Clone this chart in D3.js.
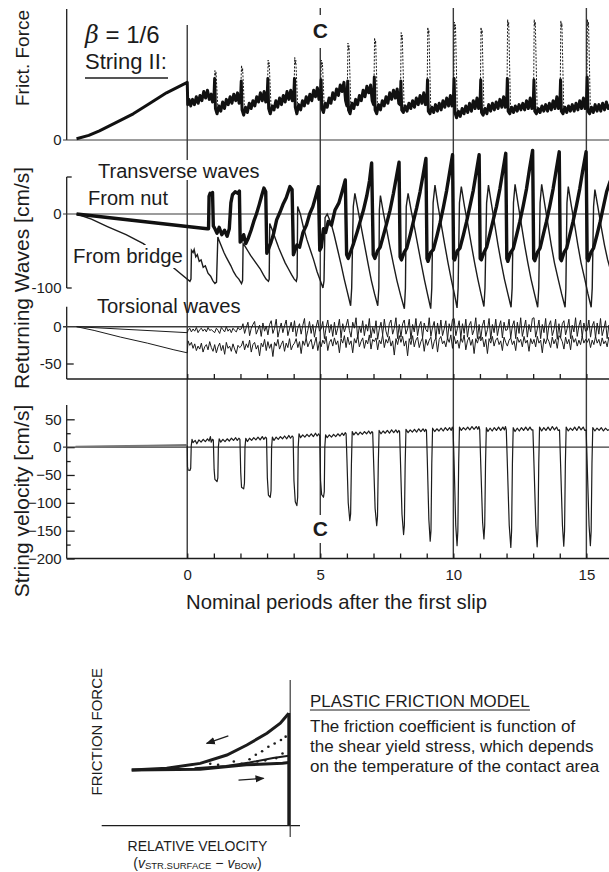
<!DOCTYPE html>
<html><head><meta charset="utf-8">
<script src="https://cdn.jsdelivr.net/npm/d3@7"></script>
<style>
body{margin:0;background:#fff}
text{font-family:"Liberation Sans",Arial,Helvetica,sans-serif;fill:#1c1c1c}
</style>
</head><body>
<svg id="c" width="609" height="872"></svg>
<script>
// ---------------- DATA ----------------
const periodTicks = d3.range(0, 16);
const periodLabels = [0, 5, 10, 15];
const velTicks = [50, 0, -50, -100, -150, -200];
const velMinor = [25, -25, -75, -125, -175];

// Friction force (arbitrary units, 0..1)
const frictionPre = [[-4.16,0.01],[-3.7,0.035],[-3.3,0.07],[-2.7,0.13],[-2.03,0.2],[-1.4,0.28],[-0.78,0.36],[0,0.44]];
const frictionSolid = [
[0.02,0.27],[0.07,0.31],[0.13,0.26],[0.2,0.31],[0.27,0.27],[0.34,0.33],[0.41,0.28],[0.48,0.34],[0.55,0.3],[0.62,0.37],[0.69,0.32],[0.76,0.38],[0.83,0.31],[0.9,0.35],[0.95,0.29],
[1.0,0.3],[1.03,0.47],[1.06,0.24],[1.12,0.2],[1.19,0.26],[1.26,0.22],[1.33,0.29],[1.4,0.24],[1.47,0.31],[1.54,0.27],[1.61,0.33],[1.68,0.28],[1.75,0.35],[1.82,0.3],[1.89,0.36],[1.95,0.28],
[2.0,0.3],[2.03,0.45],[2.06,0.23],[2.12,0.19],[2.19,0.25],[2.26,0.21],[2.33,0.28],[2.4,0.24],[2.47,0.3],[2.54,0.26],[2.61,0.33],[2.68,0.29],[2.75,0.36],[2.82,0.3],[2.89,0.37],[2.95,0.29],
[3.0,0.31],[3.03,0.47],[3.06,0.24],[3.12,0.2],[3.19,0.26],[3.26,0.23],[3.33,0.3],[3.4,0.25],[3.47,0.32],[3.54,0.27],[3.61,0.34],[3.68,0.29],[3.75,0.37],[3.82,0.31],[3.89,0.38],[3.95,0.3],
[4.0,0.32],[4.03,0.47],[4.06,0.25],[4.12,0.2],[4.19,0.27],[4.26,0.23],[4.33,0.3],[4.4,0.26],[4.47,0.33],[4.54,0.28],[4.61,0.35],[4.68,0.3],[4.75,0.38],[4.82,0.33],[4.89,0.4],[4.95,0.31],
[5.0,0.33],[5.03,0.46],[5.06,0.24],[5.12,0.21],[5.19,0.28],[5.26,0.25],[5.33,0.32],[5.4,0.28],[5.47,0.36],[5.54,0.31],[5.61,0.39],[5.68,0.34],[5.75,0.42],[5.82,0.37],[5.89,0.44],[5.95,0.3],
[6.0,0.26],[6.03,0.45],[6.06,0.23],[6.12,0.2],[6.19,0.28],[6.26,0.24],[6.33,0.31],[6.4,0.27],[6.47,0.34],[6.54,0.3],[6.61,0.38],[6.68,0.33],[6.75,0.41],[6.82,0.36],[6.89,0.42],[6.95,0.3],
[7.0,0.27],[7.03,0.48],[7.06,0.23],[7.12,0.2],[7.19,0.27],[7.26,0.23],[7.33,0.3],[7.4,0.26],[7.47,0.33],[7.54,0.28],[7.61,0.36],[7.68,0.31],[7.75,0.38],[7.82,0.32],[7.89,0.39],[7.95,0.28],
[8.0,0.27],[8.03,0.45],[8.06,0.23],[8.12,0.21],[8.19,0.26],[8.26,0.22],[8.33,0.28],[8.4,0.24],[8.47,0.3],[8.54,0.25],[8.61,0.32],[8.68,0.27],[8.75,0.34],[8.82,0.28],[8.89,0.36],[8.95,0.27],
[9.0,0.28],[9.03,0.46],[9.06,0.22],[9.12,0.2],[9.19,0.25],[9.26,0.21],[9.33,0.27],[9.4,0.22],[9.47,0.28],[9.54,0.23],[9.61,0.3],[9.68,0.25],[9.75,0.32],[9.82,0.26],[9.89,0.34],[9.95,0.26],
[10.0,0.3],[10.03,0.47],[10.06,0.21],[10.12,0.17],[10.19,0.22],[10.26,0.18],[10.33,0.24],[10.4,0.2],[10.47,0.26],[10.54,0.21],[10.61,0.28],[10.68,0.22],[10.75,0.3],[10.82,0.24],[10.89,0.32],[10.95,0.24],
[11.0,0.26],[11.03,0.46],[11.06,0.21],[11.12,0.19],[11.19,0.24],[11.26,0.2],[11.33,0.27],[11.4,0.22],[11.47,0.28],[11.54,0.23],[11.61,0.29],[11.68,0.24],[11.75,0.31],[11.82,0.25],[11.89,0.33],[11.95,0.25],
[12.0,0.27],[12.03,0.47],[12.06,0.22],[12.12,0.2],[12.19,0.25],[12.26,0.21],[12.33,0.26],[12.4,0.22],[12.47,0.27],[12.54,0.23],[12.61,0.28],[12.68,0.23],[12.75,0.3],[12.82,0.24],[12.89,0.32],[12.95,0.24],
[13.0,0.26],[13.03,0.46],[13.06,0.22],[13.12,0.2],[13.19,0.24],[13.26,0.21],[13.33,0.26],[13.4,0.22],[13.47,0.27],[13.54,0.22],[13.61,0.28],[13.68,0.23],[13.75,0.3],[13.82,0.24],[13.89,0.33],[13.95,0.24],
[14.0,0.26],[14.03,0.46],[14.06,0.22],[14.12,0.2],[14.19,0.25],[14.26,0.21],[14.33,0.26],[14.4,0.22],[14.47,0.27],[14.54,0.22],[14.61,0.28],[14.68,0.23],[14.75,0.3],[14.82,0.24],[14.89,0.32],[14.95,0.24],
[15.0,0.27],[15.03,0.48],[15.06,0.22],[15.12,0.2],[15.19,0.25],[15.26,0.21],[15.33,0.27],[15.4,0.22],[15.47,0.27],[15.54,0.22],[15.61,0.28],[15.68,0.23],[15.75,0.29],[15.82,0.24],[15.9,0.27]
];
const frictionDashed = [
[[1.02,0.44],[1.04,0.53],[1.06,0.49],[1.08,0.52],[1.15,0.25]],
[[2.02,0.44],[2.04,0.57],[2.06,0.52],[2.08,0.55],[2.15,0.24]],
[[3.02,0.44],[3.04,0.61],[3.06,0.56],[3.08,0.59],[3.15,0.25]],
[[4.02,0.44],[4.04,0.63],[4.06,0.58],[4.08,0.61],[4.15,0.26]],
[[5.02,0.44],[5.04,0.61],[5.06,0.56],[5.08,0.59],[5.15,0.25]],
[[6.02,0.44],[6.04,0.74],[6.06,0.69],[6.08,0.72],[6.15,0.25]],
[[7.02,0.44],[7.04,0.78],[7.06,0.73],[7.08,0.76],[7.15,0.25]],
[[8.02,0.44],[8.04,0.82],[8.06,0.77],[8.08,0.8],[8.15,0.25]],
[[9.02,0.44],[9.04,0.86],[9.06,0.81],[9.08,0.84],[9.15,0.25]],
[[10.02,0.44],[10.04,0.9],[10.06,0.85],[10.08,0.88],[10.15,0.22]],
[[11.02,0.44],[11.04,0.86],[11.06,0.81],[11.08,0.84],[11.15,0.23]],
[[12.02,0.44],[12.04,0.92],[12.06,0.87],[12.08,0.9],[12.15,0.23]],
[[13.02,0.44],[13.04,0.92],[13.06,0.87],[13.08,0.9],[13.15,0.23]],
[[14.02,0.44],[14.04,0.91],[14.06,0.86],[14.08,0.89],[14.15,0.23]],
[[15.02,0.44],[15.04,0.92],[15.06,0.87],[15.08,0.9],[15.15,0.23]]
];

// Transverse returning waves [cm/s]
const waveNut = [
[-4.16,0],[0.75,-20],
[0.8,-20],[0.82,24],[0.86,28],[0.9,26],[0.95,29],[0.98,-16],
[1.04,-20],[1.12,-26],[1.2,-18],[1.3,-28],[1.4,-22],[1.5,-30],[1.58,-20],[1.64,15],[1.7,26],[1.8,30],[1.9,28],[1.96,31],[1.99,-38],
[2.05,-35],[2.12,-28],[2.2,-40],[2.3,-32],[2.4,-22],[2.5,-10],[2.6,0],[2.7,12],[2.8,25],[2.88,35],[2.95,30],[2.99,-53],
[3.05,-48],[3.15,-38],[3.25,-26],[3.36,-8],[3.48,2],[3.61,14],[3.72,22],[3.86,37],[3.94,33],[3.99,-55],
[4.04,-50],[4.12,-42],[4.22,-45],[4.35,-25],[4.48,-15],[4.6,0],[4.72,10],[4.84,25],[4.93,37],[4.98,-49],
[5.04,-45],[5.12,-20],[5.2,-25],[5.3,-10],[5.42,-15],[5.55,5],[5.7,15],[5.82,30],[5.94,46],[5.99,-55],
[6.05,-60],[6.15,-50],[6.25,-40],[6.38,-25],[6.5,-10],[6.62,5],[6.75,25],[6.85,45],[6.93,69],[6.99,-55],
[7.05,-60],[7.15,-50],[7.25,-45],[7.38,-28],[7.5,-12],[7.62,5],[7.75,28],[7.86,50],[7.96,70],[8.0,-58],
[8.05,-62],[8.15,-52],[8.25,-46],[8.38,-28],[8.5,-10],[8.62,8],[8.75,30],[8.86,52],[8.97,75],[9.01,-60],
[9.05,-64],[9.15,-52],[9.25,-48],[9.38,-30],[9.5,-12],[9.62,8],[9.75,32],[9.86,56],[9.97,80],[10.01,-60],
[10.05,-62],[10.15,-50],[10.25,-46],[10.38,-28],[10.5,-10],[10.62,10],[10.75,32],[10.86,56],[10.97,80],[11.01,-60],
[11.05,-62],[11.15,-52],[11.25,-45],[11.38,-26],[11.5,-8],[11.62,10],[11.75,34],[11.86,58],[11.97,82],[12.01,-60],
[12.05,-64],[12.15,-52],[12.25,-47],[12.38,-28],[12.5,-10],[12.62,10],[12.75,34],[12.86,60],[12.98,86],[13.02,-60],
[13.06,-63],[13.16,-52],[13.26,-46],[13.38,-28],[13.5,-10],[13.62,10],[13.75,34],[13.86,58],[13.98,84],[14.02,-60],
[14.06,-63],[14.16,-52],[14.26,-46],[14.38,-28],[14.5,-10],[14.62,10],[14.75,34],[14.86,58],[14.99,84],[15.03,-60],
[15.07,-63],[15.17,-52],[15.27,-46],[15.4,-28],[15.52,-10],[15.64,10],[15.76,30],[15.9,45]
];
const waveBridge = [
[-4.16,0],[-3.6,-7],[-3.0,-17],[-2.3,-28],[-1.65,-40],[-1.0,-58],[-0.27,-80],[0.1,-91],
[0.14,-88],[0.16,-49],[0.22,-52],[0.26,-48],[0.32,-58],[0.38,-55],[0.45,-64],[0.52,-62],[0.6,-72],[0.68,-70],[0.78,-80],[0.88,-84],[0.96,-90],[1.04,-94],
[1.1,-92],[1.15,-31],[1.22,-38],[1.3,-45],[1.38,-52],[1.46,-58],[1.55,-64],[1.64,-70],[1.74,-78],[1.84,-84],[1.94,-88],[2.04,-94],
[2.08,-90],[2.1,-40],[2.18,-44],[2.28,-50],[2.38,-56],[2.5,-62],[2.62,-68],[2.74,-74],[2.86,-82],[2.96,-88],[3.05,-91],
[3.08,-88],[3.1,-13],[3.2,-22],[3.32,-34],[3.44,-46],[3.56,-56],[3.68,-66],[3.8,-74],[3.92,-82],[4.02,-88],[4.1,-91],
[4.13,-85],[4.15,10],[4.25,0],[4.38,-20],[4.5,-35],[4.62,-48],[4.75,-62],[4.88,-78],[5.0,-90],[5.1,-100],
[5.14,-90],[5.18,-5],[5.26,0],[5.4,-12],[5.52,-28],[5.65,-48],[5.78,-68],[5.9,-88],[6.02,-106],[6.14,-124],
[6.18,-100],[6.24,10],[6.3,28],[6.42,5],[6.55,-20],[6.68,-45],[6.8,-68],[6.92,-90],[7.04,-108],[7.16,-124],
[7.2,-100],[7.22,5],[7.26,25],[7.38,0],[7.5,-22],[7.62,-45],[7.75,-68],[7.88,-90],[8.02,-110],[8.16,-128],
[8.2,-100],[8.23,10],[8.3,28],[8.42,4],[8.55,-20],[8.68,-45],[8.8,-68],[8.92,-90],[9.04,-110],[9.15,-128],
[9.19,-100],[9.24,15],[9.31,39],[9.42,12],[9.55,-15],[9.68,-42],[9.8,-66],[9.92,-88],[10.04,-108],[10.14,-127],
[10.18,-100],[10.23,15],[10.3,37],[10.42,10],[10.55,-15],[10.68,-42],[10.8,-66],[10.92,-88],[11.04,-108],[11.15,-125],
[11.19,-100],[11.25,15],[11.32,39],[11.44,12],[11.56,-15],[11.68,-42],[11.8,-66],[11.92,-88],[12.05,-108],[12.17,-126],
[12.21,-100],[12.26,15],[12.32,40],[12.44,12],[12.56,-15],[12.68,-42],[12.8,-66],[12.92,-88],[13.05,-108],[13.17,-126],
[13.21,-100],[13.26,15],[13.32,40],[13.44,12],[13.56,-15],[13.68,-42],[13.8,-66],[13.94,-88],[14.07,-108],[14.2,-126],
[14.23,-100],[14.27,15],[14.32,37],[14.44,10],[14.56,-15],[14.68,-42],[14.8,-66],[14.94,-88],[15.06,-108],[15.18,-126],
[15.22,-100],[15.27,10],[15.32,33],[15.44,8],[15.56,-18],[15.68,-42],[15.8,-62],[15.9,-75]
];

// Torsional returning waves [cm/s], sampled every 1/16 period after the first slip
const torsionUpperPre = [[-4.16,0],[0,-8]];
const torsionLowerPre = [[-4.16,0],[-3.5,-5],[-2.5,-14],[-1.5,-22],[-0.5,-31],[0,-35]];
const torsionStart = 0.03125, torsionStep = 0.0625;
const torsionUpper = [
-5,-2,-7,-3,-6,-1,-8,-4,-2,-6,-3,-7,-1,-5,-4,-6,
-8,-2,-5,-9,-1,-4,-7,0,-6,-3,-8,-2,-5,-7,-1,-4,
-3,4,-9,-1,6,-12,-2,3,7,-10,-4,2,-13,5,-6,1,
-11,3,8,-9,-2,10,-14,-4,5,-8,1,9,-12,-3,6,-7,
8,-13,-2,4,-10,2,11,-15,-5,7,-9,3,-14,0,9,-6,
-3,7,-16,-1,9,-8,3,-13,6,-11,-2,10,-15,4,-7,1,
10,-5,-14,6,-2,12,-16,1,-8,8,-12,3,-6,11,-15,-1,
-9,8,-17,-3,6,-11,10,-6,-14,4,9,-10,-2,12,-16,3,
-14,4,9,-10,-3,10,-17,3,-7,11,-12,1,7,-15,5,-4,
-7,12,-13,-1,7,-16,5,-10,9,-12,-3,8,-17,4,-6,10,
11,-12,-2,8,-15,4,-9,10,-14,2,7,-11,-4,12,-16,3,
-16,2,9,-13,-4,11,-17,3,-8,10,-12,0,8,-15,6,-5,
-4,10,-15,1,8,-16,6,-9,12,-13,-2,9,-14,3,-7,11,
12,-14,-3,9,-16,3,-8,11,-15,2,8,-12,-4,10,-17,4,
-15,4,8,-11,-2,10,-16,2,-7,12,-13,1,9,-14,5,-6,
-5,9,-14,1,7,-15,5,-10,11,-12,-3,8,-16,2,-6,9
];
const torsionLower = [
-19,-25,-21,-29,-23,-32,-26,-30,-22,-34,-27,-24,-31,-20,-28,-33,
-24,-35,-27,-22,-32,-25,-37,-21,-29,-26,-33,-23,-30,-36,-25,-28,
-26,-19,-31,-23,-28,-18,-34,-24,-21,-30,-25,-39,-22,-27,-17,-32,
-20,-29,-23,-40,-21,-26,-17,-30,-24,-19,-33,-22,-28,-16,-31,-25,
-22,-16,-28,-20,-36,-19,-25,-15,-27,-21,-17,-30,-23,-14,-32,-20,
-27,-18,-23,-13,-32,-21,-17,-26,-15,-24,-19,-35,-16,-22,-12,-28,
-14,-24,-19,-35,-16,-22,-12,-27,-20,-15,-29,-18,-23,-11,-30,-17,
-20,-15,-31,-18,-23,-11,-28,-17,-22,-13,-26,-19,-38,-16,-24,-12,
-21,-13,-26,-19,-39,-16,-24,-12,-27,-18,-14,-28,-20,-15,-33,-17,
-25,-18,-14,-30,-20,-15,-34,-17,-13,-23,-19,-27,-15,-21,-11,-29,
-13,-23,-18,-29,-15,-21,-11,-31,-19,-14,-25,-17,-36,-16,-22,-13,
-19,-14,-27,-17,-36,-16,-22,-13,-26,-18,-15,-24,-19,-32,-14,-21,
-26,-18,-15,-24,-19,-32,-14,-21,-17,-27,-13,-22,-18,-33,-16,-23,
-17,-27,-13,-22,-18,-35,-16,-23,-15,-20,-28,-14,-23,-17,-29,-12,
-15,-20,-30,-14,-23,-17,-31,-12,-21,-16,-26,-18,-24,-13,-22,-17,
-21,-16,-28,-18,-24,-13,-22,-17,-26,-15,-23,-19,-27,-14,-20,-16
];

// String velocity [cm/s]
const velocityPre = [[-4.2,0.5],[-3,1.5],[-1.5,2.5],[0,3.5]];
const velocity = [
[0.0,3],[0.01,-35],[0.03,-41],[0.1,-42],[0.13,-38],[0.15,2],[0.18,14],[0.22,8],[0.3,12],[0.36,6],[0.44,13],[0.52,9],[0.6,14],[0.68,10],[0.76,15],[0.82,11],[0.87,19],[0.9,9],[0.95,14],
[0.98,13],[1.01,-40],[1.04,-58],[1.12,-62],[1.15,-55],[1.17,0],[1.2,15],[1.26,9],[1.34,14],[1.42,10],[1.5,15],[1.58,11],[1.66,16],[1.74,12],[1.82,17],[1.88,12],[1.94,16],
[1.98,14],[2.01,-45],[2.04,-72],[2.12,-75],[2.15,-65],[2.17,0],[2.2,16],[2.26,10],[2.34,16],[2.42,12],[2.5,17],[2.58,13],[2.66,18],[2.74,13],[2.82,19],[2.88,14],[2.94,18],
[2.98,16],[3.01,-55],[3.05,-86],[3.12,-90],[3.15,-78],[3.17,0],[3.2,18],[3.26,12],[3.34,18],[3.42,14],[3.5,19],[3.58,15],[3.66,20],[3.74,15],[3.82,21],[3.88,16],[3.94,20],
[3.98,18],[4.01,-60],[4.06,-98],[4.12,-105],[4.15,-90],[4.17,0],[4.2,24],[4.26,17],[4.34,22],[4.42,18],[4.5,23],[4.58,19],[4.66,24],[4.74,19],[4.82,25],[4.88,20],[4.94,24],
[4.98,20],[5.01,-60],[5.05,-85],[5.12,-90],[5.15,-80],[5.17,0],[5.2,22],[5.26,17],[5.34,22],[5.42,18],[5.5,23],[5.58,19],[5.66,24],[5.74,20],[5.82,25],[5.88,21],[5.94,26],
[5.97,24],[6.0,-20],[6.05,-100],[6.11,-132],[6.14,-120],[6.17,-30],[6.2,28],[6.26,22],[6.34,27],[6.42,22],[6.5,27],[6.58,23],[6.66,28],[6.74,24],[6.82,29],[6.88,24],[6.94,28],
[6.97,26],[7.0,-20],[7.06,-110],[7.12,-141],[7.15,-125],[7.18,-30],[7.21,30],[7.28,24],[7.36,29],[7.44,25],[7.52,30],[7.6,25],[7.68,31],[7.76,26],[7.84,31],[7.9,26],[7.95,30],
[7.98,28],[8.01,-20],[8.07,-120],[8.13,-157],[8.16,-140],[8.19,-30],[8.22,32],[8.3,26],[8.38,31],[8.46,27],[8.54,32],[8.62,27],[8.7,33],[8.78,28],[8.86,33],[8.92,28],[8.96,32],
[8.99,30],[9.02,-20],[9.08,-130],[9.13,-169],[9.16,-150],[9.19,-30],[9.22,34],[9.3,28],[9.38,33],[9.46,29],[9.54,34],[9.62,29],[9.7,35],[9.78,30],[9.86,35],[9.92,30],[9.96,36],
[9.99,32],[10.03,-30],[10.09,-140],[10.14,-177],[10.17,-150],[10.2,-30],[10.23,36],[10.3,30],[10.38,35],[10.46,31],[10.54,36],[10.62,31],[10.7,37],[10.78,32],[10.86,37],[10.92,32],[10.96,37],
[10.99,32],[11.03,-30],[11.1,-135],[11.15,-165],[11.18,-140],[11.21,-30],[11.24,35],[11.3,28],[11.38,34],[11.46,29],[11.54,35],[11.62,30],[11.7,36],[11.78,30],[11.86,36],[11.92,31],[11.96,37],
[11.99,31],[12.03,-30],[12.1,-140],[12.16,-180],[12.19,-150],[12.22,-30],[12.25,35],[12.32,28],[12.4,34],[12.48,29],[12.56,35],[12.64,30],[12.72,36],[12.8,30],[12.88,36],[12.94,31],
[12.99,31],[13.03,-30],[13.1,-140],[13.15,-179],[13.18,-150],[13.21,-30],[13.24,36],[13.32,29],[13.4,35],[13.48,30],[13.56,36],[13.64,30],[13.72,37],[13.8,31],[13.88,36],[13.94,30],
[13.99,31],[14.03,-30],[14.1,-140],[14.15,-178],[14.18,-150],[14.21,-30],[14.24,36],[14.32,29],[14.4,34],[14.48,30],[14.56,36],[14.64,30],[14.72,37],[14.8,31],[14.88,36],[14.94,30],
[14.99,31],[15.03,-30],[15.1,-140],[15.15,-177],[15.18,-150],[15.21,-30],[15.24,35],[15.32,29],[15.4,34],[15.48,30],[15.56,35],[15.64,29],[15.72,34],[15.8,30],[15.9,33]
];

// Inset: plastic friction model (relative velocity -1..0, force 0..1)
const insetUpper = [[-1,0.494],[-0.777,0.509],[-0.564,0.553],[-0.394,0.627],[-0.267,0.716],[-0.139,0.82],[-0.054,0.909],[0,0.998]];
const insetLower = [[-1,0.494],[-0.564,0.5],[-0.27,0.54],[-0.04,0.555],[0,0.56]];
const insetBand = [[-0.6,0.51],[-0.4,0.53],[-0.25,0.56],[-0.1,0.6],[0,0.62]];
const insetDots = [[-0.3,0.55],[-0.25,0.59],[-0.21,0.63],[-0.17,0.66],[-0.13,0.7],[-0.09,0.73],[-0.05,0.76],[-0.02,0.79],[-0.45,0.54],[-0.35,0.57],[-0.5,0.55],[-0.2,0.57],[-0.08,0.6],[-0.04,0.64],[-0.15,0.58]];

// ---------------- DRAW ----------------
const svg = d3.select("#c");
const x = d3.scaleLinear().domain([-4.53, 15.85]).range([66.7, 609]);
const yF = d3.scaleLinear().domain([0, 1]).range([140, 9]);
const yT = d3.scaleLinear().domain([-100, 0]).range([288, 214]);
const yR = d3.scaleLinear().domain([-50, 0]).range([364, 326.7]);
const yV = d3.scaleLinear().domain([-200, 50]).range([558.5, 419.3]);
const axisX = 66.7, rightX = 609;
const ink = "#1c1c1c", guide = "#3a3a3a";

function hline(y, x1, x2, w, c) {
  svg.append("line").attr("x1", x1).attr("x2", x2).attr("y1", y).attr("y2", y)
    .attr("stroke", c || guide).attr("stroke-width", w || 1);
}
function vline(xp, y1, y2, w, c) {
  svg.append("line").attr("x1", xp).attr("x2", xp).attr("y1", y1).attr("y2", y2)
    .attr("stroke", c || guide).attr("stroke-width", w || 1);
}

// vertical period guide lines
const guideSegs = {0: [[25, 160], [180, 558.5]], 5: [[8, 15], [48, 515], [543, 558.5]], 10: [[8, 558.5]], 15: [[8, 558.5]]};
periodLabels.forEach(p => guideSegs[p].forEach(s => vline(x(p), s[0], s[1], 1.4)));

// ----- Panel 1: friction force
vline(axisX, 9, 140, 1.3, ink);
hline(yF(0), 63, rightX, 1.2);
svg.append("text").attr("x", 61.5).attr("y", yF(0)).attr("dy", "0.35em").attr("text-anchor", "end").attr("font-size", 15).text("0");
const lineF = d3.line().x(d => x(d[0])).y(d => yF(d[1]));
frictionDashed.forEach(s => svg.append("path").attr("d", lineF(s)).attr("fill", "none")
  .attr("stroke", ink).attr("stroke-width", 1).attr("stroke-dasharray", "2,1.5"));
svg.append("path").attr("d", lineF(frictionPre.concat(frictionSolid))).attr("fill", "none")
  .attr("stroke", "#111").attr("stroke-width", 3).attr("stroke-linejoin", "round");

// ----- Panel 2: transverse
vline(axisX, 177, 288, 1.3, ink);
hline(177, axisX, axisX + 5, 1.3, ink);
hline(yT(-100), axisX, axisX + 5, 1.3, ink);
hline(yT(0), 63, rightX, 1.2);
[0, -100].forEach(v => svg.append("text").attr("x", 61.5).attr("y", yT(v)).attr("dy", "0.35em")
  .attr("text-anchor", "end").attr("font-size", 15).text(v));
const lineT = d3.line().x(d => x(d[0])).y(d => yT(d[1]));
svg.append("path").attr("d", lineT(waveBridge)).attr("fill", "none").attr("stroke", ink).attr("stroke-width", 1.4);
svg.append("path").attr("d", lineT(waveNut)).attr("fill", "none").attr("stroke", "#111").attr("stroke-width", 3.4).attr("stroke-linejoin", "round");

// ----- Panel 3: torsional
vline(axisX, 306.7, 379, 1.3, ink);
hline(yR(-50), axisX, axisX + 7, 1.3, ink);
hline(yR(0), 63, rightX, 1.4);
[0, -50].forEach(v => svg.append("text").attr("x", 61.5).attr("y", yR(v)).attr("dy", "0.35em")
  .attr("text-anchor", "end").attr("font-size", 15).text(v));
const lineR = d3.line().x(d => x(d[0])).y(d => yR(d[1]));
const tUp = torsionUpper.map((v, i) => [torsionStart + i * torsionStep, v]);
const tLo = torsionLower.map((v, i) => [torsionStart + i * torsionStep, v]);
svg.append("path").attr("d", lineR(torsionLowerPre.concat(tLo))).attr("fill", "none").attr("stroke", ink).attr("stroke-width", 1);
svg.append("path").attr("d", lineR(torsionUpperPre.concat(tUp))).attr("fill", "none").attr("stroke", ink).attr("stroke-width", 1);
const axR = svg.append("g").attr("transform", "translate(0,379)")
  .call(d3.axisBottom(x).tickValues(periodTicks).tickSizeInner(-5).tickSizeOuter(0).tickFormat(""));
axR.select(".domain").remove();
axR.selectAll("line").attr("stroke", ink).attr("stroke-width", 1.3);
hline(379, axisX, rightX, 1.5, ink);

// ----- Panel 4: string velocity
vline(axisX, 405, 558.5, 1.3, ink);
const axV = svg.append("g").attr("transform", `translate(${axisX},0)`)
  .call(d3.axisLeft(yV).tickValues(velTicks).tickSizeInner(-8).tickSizeOuter(0).tickPadding(5));
axV.select(".domain").remove();
axV.selectAll("line").attr("stroke", ink).attr("stroke-width", 1.3);
axV.selectAll("text").attr("font-size", 15).attr("font-family", "Liberation Sans, Arial, sans-serif").attr("fill", ink);
const axVm = svg.append("g").attr("transform", `translate(${axisX},0)`)
  .call(d3.axisLeft(yV).tickValues(velMinor).tickSizeInner(-4).tickSizeOuter(0).tickFormat(""));
axVm.select(".domain").remove();
axVm.selectAll("line").attr("stroke", ink).attr("stroke-width", 1.3);
hline(yV(0), 63, rightX, 1.2);
const lineV = d3.line().x(d => x(d[0])).y(d => yV(d[1]));
svg.append("path").attr("d", lineV(velocityPre)).attr("fill", "none").attr("stroke", "#777").attr("stroke-width", 2.2);
svg.append("path").attr("d", lineV(velocity)).attr("fill", "none").attr("stroke", ink).attr("stroke-width", 1.2).attr("stroke-linejoin", "round");
const axB = svg.append("g").attr("transform", "translate(0,558.5)")
  .call(d3.axisBottom(x).tickValues(periodTicks).tickSizeInner(-5).tickSizeOuter(0).tickPadding(11)
    .tickFormat(d => periodLabels.includes(d) ? d : ""));
axB.select(".domain").remove();
axB.selectAll("line").attr("stroke", ink).attr("stroke-width", 1.3);
axB.selectAll("text").attr("font-size", 15).attr("font-family", "Liberation Sans, Arial, sans-serif").attr("fill", ink);
hline(558.5, axisX, rightX, 1.5, ink);

// ----- Labels
function rot(txt, cx, cy, fs) {
  svg.append("text").attr("transform", `translate(${cx},${cy}) rotate(-90)`).attr("text-anchor", "middle")
    .attr("font-size", fs).text(txt);
}
rot("Frict. Force", 28.5, 58, 19);
rot("Returning Waves [cm/s]", 28.5, 278, 21);
rot("String velocity [cm/s]", 28.5, 501, 21);

const beta = svg.append("text").attr("x", 85).attr("y", 43).attr("font-size", 24);
beta.append("tspan").attr("font-style", "italic").attr("font-family", "DejaVu Serif, serif").text("β");
beta.append("tspan").text(" = 1/6");
svg.append("text").attr("x", 85).attr("y", 69).attr("font-size", 22).text("String II:");
hline(78, 85, 168, 1.6, ink);

svg.append("text").attr("x", x(5)).attr("y", 37.5).attr("text-anchor", "middle").attr("font-size", 21).attr("font-weight", "bold").text("C");
svg.append("text").attr("x", x(5)).attr("y", 536).attr("text-anchor", "middle").attr("font-size", 21).attr("font-weight", "bold").text("C");

svg.append("text").attr("x", 98).attr("y", 178).attr("font-size", 20).text("Transverse waves");
svg.append("text").attr("x", 88).attr("y", 205).attr("font-size", 20).text("From nut");
svg.append("rect").attr("x", 72).attr("y", 245).attr("width", 112).attr("height", 23).attr("fill", "#fff");
svg.append("text").attr("x", 73).attr("y", 263).attr("font-size", 20.4).text("From bridge");
svg.append("text").attr("x", 97).attr("y", 313).attr("font-size", 20.2).text("Torsional waves");
svg.append("text").attr("x", 336.5).attr("y", 609).attr("text-anchor", "middle").attr("font-size", 20.3).text("Nominal periods after the first slip");

// ----- Inset
const ix = d3.scaleLinear().domain([-1, 0]).range([131.7, 288.8]);
const iy = d3.scaleLinear().domain([0, 1]).range([825.7, 713]);
hline(825.7, 101.7, 300, 1.3, ink);
vline(290.2, 680, 837, 1.2, guide);
const lineI = d3.line().x(d => ix(d[0])).y(d => iy(d[1]));
svg.append("path").attr("d", lineI(insetBand)).attr("fill", "none").attr("stroke", ink).attr("stroke-width", 2);
svg.append("path").attr("d", lineI(insetLower)).attr("fill", "none").attr("stroke", ink).attr("stroke-width", 3);
svg.append("path").attr("d", lineI(insetUpper)).attr("fill", "none").attr("stroke", ink).attr("stroke-width", 3);
svg.selectAll(".idot").data(insetDots).join("circle").attr("cx", d => ix(d[0])).attr("cy", d => iy(d[1])).attr("r", 1.3).attr("fill", ink);
vline(ix(0), iy(1), iy(0), 3, ink);

svg.append("defs").append("marker").attr("id", "ah").attr("viewBox", "0 0 10 10").attr("refX", 9).attr("refY", 5)
  .attr("markerWidth", 7).attr("markerHeight", 7).attr("orient", "auto")
  .append("path").attr("d", "M0,1L10,5L0,9Z").attr("fill", ink);
svg.append("line").attr("x1", ix(-0.385)).attr("y1", iy(0.798)).attr("x2", ix(-0.523)).attr("y2", iy(0.73))
  .attr("stroke", ink).attr("stroke-width", 1.3).attr("marker-end", "url(#ah)");
svg.append("line").attr("x1", ix(-0.32)).attr("y1", iy(0.405)).attr("x2", ix(-0.16)).attr("y2", iy(0.42))
  .attr("stroke", ink).attr("stroke-width", 1.3).attr("marker-end", "url(#ah)");

svg.append("text").attr("transform", "translate(101.5,731.7) rotate(-90)").attr("text-anchor", "middle").attr("font-size", 15).text("FRICTION FORCE");
svg.append("text").attr("x", 197.5).attr("y", 850.5).attr("text-anchor", "middle").attr("font-size", 14).text("RELATIVE VELOCITY");
const rv = svg.append("text").attr("x", 197.5).attr("y", 867.5).attr("text-anchor", "middle").attr("font-size", 14);
rv.append("tspan").text("(");
rv.append("tspan").attr("font-style", "italic").text("v");
rv.append("tspan").attr("font-size", 9.5).attr("dy", 1.5).text("STR.SURFACE");
rv.append("tspan").attr("dy", -1.5).text(" \u2212 ");
rv.append("tspan").attr("font-style", "italic").text("v");
rv.append("tspan").attr("font-size", 9.5).attr("dy", 1.5).text("BOW");
rv.append("tspan").attr("dy", -1.5).text(")");

svg.append("text").attr("x", 310).attr("y", 707).attr("font-size", 16.9).text("PLASTIC FRICTION MODEL");
hline(710, 310, 530, 1, ink);
["The friction coefficient is function of", "the shear yield stress, which depends", "on the temperature of the contact area"]
  .forEach((t, i) => svg.append("text").attr("x", 310).attr("y", 732 + i * 20).attr("font-size", 17).text(t));
</script>
</body></html>
